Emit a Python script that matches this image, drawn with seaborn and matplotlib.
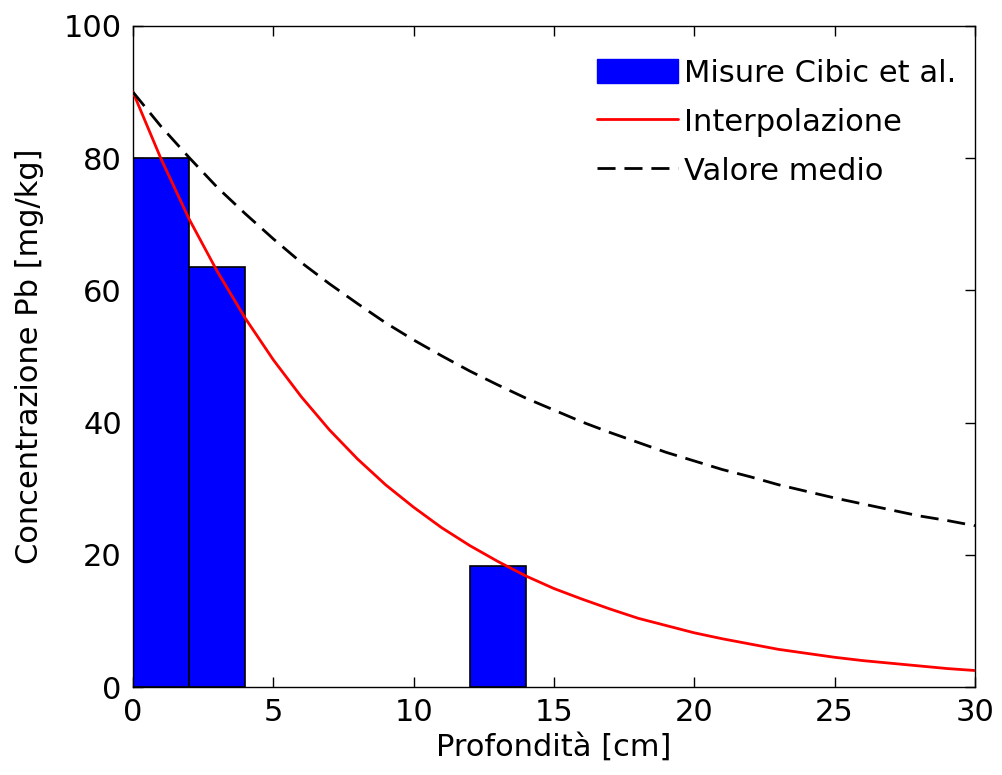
import numpy as np
import pandas as pd
import seaborn as sns
import matplotlib
matplotlib.use("Agg")
import matplotlib.pyplot as plt
from matplotlib.patches import Patch
from matplotlib.lines import Line2D

# ---- data ----
bar_centers = [1, 3, 13]            # cm (bars span 0-2, 2-4, 12-14)
bar_values = [80.0, 63.5, 18.3]     # mg/kg

depth = list(range(0, 31))          # cm
interp = [90.0, 79.9, 70.8, 62.9, 55.8, 49.5, 43.9, 38.9, 34.5, 30.6,
          27.2, 24.1, 21.4, 19.0, 16.8, 14.9, 13.3, 11.8, 10.4, 9.3,
          8.2, 7.3, 6.5, 5.7, 5.1, 4.5, 4.0, 3.6, 3.2, 2.8, 2.5]
mean_val = [90.0, 84.8, 80.1, 75.6, 71.6, 67.8, 64.2, 61.0, 58.0, 55.1,
            52.5, 50.1, 47.8, 45.7, 43.7, 41.9, 40.1, 38.5, 37.0, 35.5,
            34.2, 32.9, 31.8, 30.6, 29.6, 28.6, 27.7, 26.8, 25.9, 25.2, 24.4]

x_ticks = [0, 5, 10, 15, 20, 25, 30]
y_ticks = [0, 20, 40, 60, 80, 100]
labels = ["Misure Cibic et al.", "Interpolazione", "Valore medio"]

sns.set_style("ticks")
plt.rcParams["font.family"] = ["DejaVu Sans"]
plt.rcParams["axes.linewidth"] = 1.0
plt.rcParams["text.color"] = "black"
plt.rcParams["axes.labelcolor"] = "black"
plt.rcParams["xtick.color"] = "black"
plt.rcParams["ytick.color"] = "black"

FS = 22
DASH = (0, (6.5, 3.2))

fig = plt.figure(figsize=(10.02, 7.75), dpi=100)
ax = fig.add_axes([0.1327, 0.1135, 0.8403, 0.853])

bars_df = pd.DataFrame({"x": bar_centers, "y": bar_values})
sns.barplot(data=bars_df, x="x", y="y", native_scale=True, width=1.0,
            color="blue", saturation=1, edgecolor="black", linewidth=1.2,
            ax=ax, zorder=1)

sns.lineplot(x=depth, y=interp, color="red", linewidth=2.0, ax=ax, zorder=3)
sns.lineplot(x=depth, y=mean_val, color="black", linewidth=2.0,
             linestyle=DASH, ax=ax, zorder=3)

ax.set_xlim(0, 30)
ax.set_ylim(0, 100)
ax.set_xticks(x_ticks)
ax.set_yticks(y_ticks)
ax.set_xticklabels([str(t) for t in x_ticks])
ax.set_yticklabels([str(t) for t in y_ticks])
ax.tick_params(direction="in", length=7, width=1.0, top=True, right=True,
               labelsize=FS, pad=8, colors="black")
ax.set_xlabel("Profondità [cm]", fontsize=FS, labelpad=4)
ax.set_ylabel("Concentrazione Pb [mg/kg]", fontsize=FS, labelpad=14)
for s in ax.spines.values():
    s.set_visible(True)
    s.set_color("black")

handles = [Patch(facecolor="blue", edgecolor="blue"),
           Line2D([], [], color="red", linewidth=2.0),
           Line2D([], [], color="black", linewidth=2.0, linestyle=DASH)]
leg = ax.legend(handles, labels, loc="upper right", bbox_to_anchor=(1.0, 0.978),
                fontsize=FS, frameon=False,
                handlelength=2.65, handletextpad=0.2, labelspacing=0.65,
                handleheight=0.85, borderaxespad=0.3, borderpad=0.3)

fig.savefig("out.png", dpi=100)
